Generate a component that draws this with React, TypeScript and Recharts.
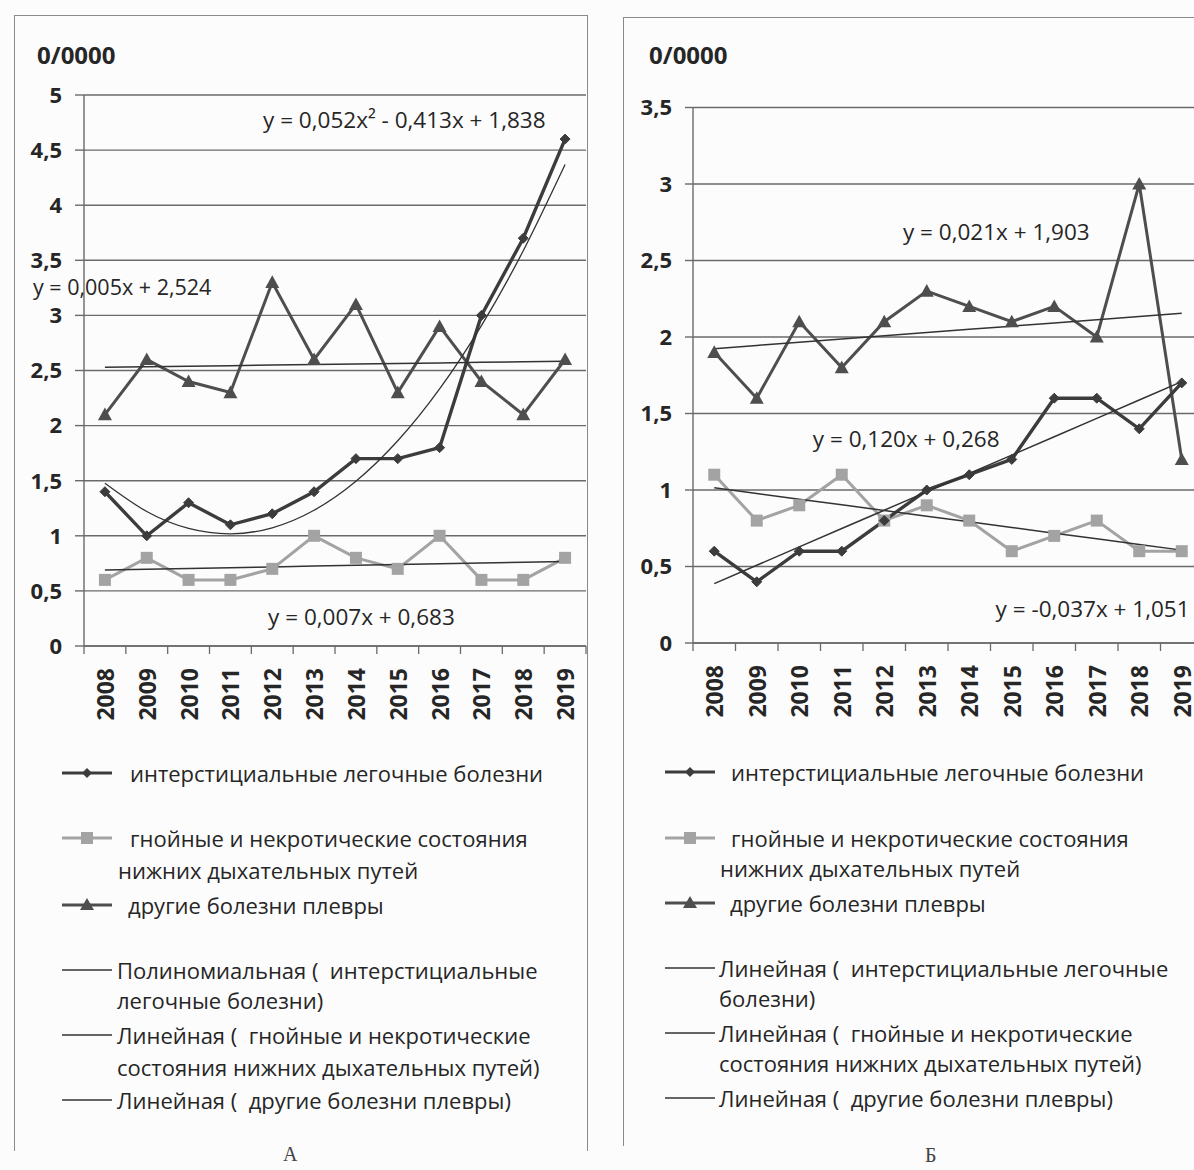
import React from 'react';
import { LineChart, Line, XAxis, YAxis, CartesianGrid, ReferenceDot } from 'recharts';

// ---------- data ----------
const years = ['2008', '2009', '2010', '2011', '2012', '2013', '2014', '2015', '2016', '2017', '2018', '2019'];

// Chart A
const interstitialA = [1.4, 1.0, 1.3, 1.1, 1.2, 1.4, 1.7, 1.7, 1.8, 3.0, 3.7, 4.6];
const purulentA = [0.6, 0.8, 0.6, 0.6, 0.7, 1.0, 0.8, 0.7, 1.0, 0.6, 0.6, 0.8];
const pleuraA = [2.1, 2.6, 2.4, 2.3, 3.3, 2.6, 3.1, 2.3, 2.9, 2.4, 2.1, 2.6];
const polyTrendA = [1.477, 1.22, 1.067, 1.018, 1.073, 1.232, 1.495, 1.862, 2.333, 2.908, 3.587, 4.37];
const purulentTrendA = [0.69, 0.697, 0.704, 0.711, 0.718, 0.725, 0.732, 0.739, 0.746, 0.753, 0.76, 0.767];
const pleuraTrendA = [2.529, 2.534, 2.539, 2.544, 2.549, 2.554, 2.559, 2.564, 2.569, 2.574, 2.579, 2.584];
const yTicksA = [0, 0.5, 1, 1.5, 2, 2.5, 3, 3.5, 4, 4.5, 5];

// Chart B
const interstitialB = [0.6, 0.4, 0.6, 0.6, 0.8, 1.0, 1.1, 1.2, 1.6, 1.6, 1.4, 1.7];
const purulentB = [1.1, 0.8, 0.9, 1.1, 0.8, 0.9, 0.8, 0.6, 0.7, 0.8, 0.6, 0.6];
const pleuraB = [1.9, 1.6, 2.1, 1.8, 2.1, 2.3, 2.2, 2.1, 2.2, 2.0, 3.0, 1.2];
const interstitialTrendB = [0.388, 0.508, 0.628, 0.748, 0.868, 0.988, 1.108, 1.228, 1.348, 1.468, 1.588, 1.708];
const purulentTrendB = [1.014, 0.977, 0.94, 0.903, 0.866, 0.829, 0.792, 0.755, 0.718, 0.681, 0.644, 0.607];
const pleuraTrendB = [1.924, 1.945, 1.966, 1.987, 2.008, 2.029, 2.05, 2.071, 2.092, 2.113, 2.134, 2.155];
const yTicksB = [0, 0.5, 1, 1.5, 2, 2.5, 3, 3.5];

// x ticks: category centres (integers) and category boundaries (halves)
const xTicks: number[] = [];
for (let i = 0; i <= years.length * 2; i++) xTicks.push(i / 2 - 0.5);

const dataA = years.map((y, i) => ({
  x: i, year: y,
  inter: interstitialA[i], pur: purulentA[i], pleu: pleuraA[i],
  interT: polyTrendA[i], purT: purulentTrendA[i], pleuT: pleuraTrendA[i],
}));
const dataB = years.map((y, i) => ({
  x: i, year: y,
  inter: interstitialB[i], pur: purulentB[i], pleu: pleuraB[i],
  interT: interstitialTrendB[i], purT: purulentTrendB[i], pleuT: pleuraTrendB[i],
}));

// ---------- styles ----------
const FONT = "'Open Sans', sans-serif";
const TEXT = '#262626';
const C_INTER = '#3c3c3c';
const C_PUR = '#a3a3a3';
const C_PLEU = '#4e4e4e';
const C_TREND = '#333333';
const C_GRID = '#6a6a6a';

const fmt = (v: number) => String(v).replace('.', ',');

const XTick = (props: any) => {
  const { x, y, payload } = props;
  const v = payload.value as number;
  if (Math.abs(v - Math.round(v)) > 0.01) {
    return <line x1={x} x2={x} y1={y} y2={y + 8} stroke={C_GRID} strokeWidth={1.3} />;
  }
  const ty = y + 22;
  return (
    <text x={x} y={ty} transform={`rotate(-90 ${x} ${ty})`} textAnchor="end" dominantBaseline="central"
      fontFamily={FONT} fontSize={23} fontWeight={700} fill={TEXT}>
      {years[Math.round(v)]}
    </text>
  );
};

const diamondDot = (props: any) => {
  const { cx, cy, index } = props;
  const s = 5;
  return <polygon key={`d${index}`} points={`${cx},${cy - s} ${cx + s},${cy} ${cx},${cy + s} ${cx - s},${cy}`} fill={C_INTER} stroke={C_INTER} strokeWidth={1} />;
};
const squareDot = (props: any) => {
  const { cx, cy, index } = props;
  const s = 6;
  return <rect key={`s${index}`} x={cx - s} y={cy - s} width={2 * s} height={2 * s} fill={C_PUR} />;
};
const triangleDot = (props: any) => {
  const { cx, cy, index } = props;
  const s = 7;
  return <polygon key={`t${index}`} points={`${cx},${cy - s} ${cx + s},${cy + s * 0.8} ${cx - s},${cy + s * 0.8}`} fill={C_PLEU} />;
};

const eqLabel = (value: string, size = 22.5) => ({
  value, position: 'right' as const, offset: 0, fill: TEXT, fontSize: size, fontFamily: FONT,
});

function ChartA() {
  return (
    <LineChart width={600} height={720} data={dataA} margin={{ top: 95, right: 14, bottom: 0, left: 0 }}>
      <CartesianGrid vertical={false} stroke={C_GRID} strokeWidth={1.4} />
      <XAxis type="number" dataKey="x" domain={[-0.5, 11.5]} ticks={xTicks} interval={0} height={74}
        tickSize={0} tickMargin={0} tick={(p: any) => <XTick {...p} />} axisLine={{ stroke: C_GRID, strokeWidth: 1.4 }} />
      <YAxis type="number" domain={[0, 5]} ticks={yTicksA} interval={0} width={84} tickSize={9} tickMargin={13}
        tickFormatter={fmt} axisLine={{ stroke: C_GRID, strokeWidth: 1.4 }} tickLine={{ stroke: C_GRID, strokeWidth: 1.4 }}
        tick={{ fontFamily: FONT, fontSize: 22, fontWeight: 700, fill: TEXT }} />
      <Line dataKey="pur" stroke={C_PUR} strokeWidth={3} dot={squareDot} activeDot={false} isAnimationActive={false} />
      <Line dataKey="pleu" stroke={C_PLEU} strokeWidth={3} dot={triangleDot} activeDot={false} isAnimationActive={false} />
      <Line dataKey="inter" stroke={C_INTER} strokeWidth={3.4} dot={diamondDot} activeDot={false} isAnimationActive={false} />
      <Line type="natural" dataKey="interT" stroke={C_TREND} strokeWidth={1.3} dot={false} activeDot={false} isAnimationActive={false} />
      <Line dataKey="purT" stroke={C_TREND} strokeWidth={1.5} dot={false} activeDot={false} isAnimationActive={false} />
      <Line dataKey="pleuT" stroke={C_TREND} strokeWidth={1.5} dot={false} activeDot={false} isAnimationActive={false} />
      <ReferenceDot x={3.78} y={4.77} r={0} stroke="none" fill="none" ifOverflow="visible" label={eqLabel('y = 0,052x² - 0,413x + 1,838')} />
      <ReferenceDot x={-1.72} y={3.25} r={0} stroke="none" fill="none" ifOverflow="visible" label={eqLabel('y = 0,005x + 2,524', 21.5)} />
      <ReferenceDot x={3.9} y={0.263} r={0} stroke="none" fill="none" ifOverflow="visible" label={eqLabel('y = 0,007x + 0,683')} />
    </LineChart>
  );
}

function ChartB() {
  return (
    <LineChart width={620} height={717} data={dataB} margin={{ top: 107.5, right: 17, bottom: 0, left: 0 }}>
      <CartesianGrid vertical={false} stroke={C_GRID} strokeWidth={1.4} />
      <XAxis type="number" dataKey="x" domain={[-0.5, 11.5]} ticks={xTicks} interval={0} height={74}
        tickSize={0} tickMargin={0} tick={(p: any) => <XTick {...p} />} axisLine={{ stroke: C_GRID, strokeWidth: 1.4 }} />
      <YAxis type="number" domain={[0, 3.5]} ticks={yTicksB} interval={0} width={93} tickSize={8} tickMargin={13}
        tickFormatter={fmt} axisLine={{ stroke: C_GRID, strokeWidth: 1.4 }} tickLine={{ stroke: C_GRID, strokeWidth: 1.4 }}
        tick={{ fontFamily: FONT, fontSize: 22, fontWeight: 700, fill: TEXT }} />
      <Line dataKey="pur" stroke={C_PUR} strokeWidth={3} dot={squareDot} activeDot={false} isAnimationActive={false} />
      <Line dataKey="pleu" stroke={C_PLEU} strokeWidth={3} dot={triangleDot} activeDot={false} isAnimationActive={false} />
      <Line dataKey="inter" stroke={C_INTER} strokeWidth={3.4} dot={diamondDot} activeDot={false} isAnimationActive={false} />
      <Line dataKey="interT" stroke={C_TREND} strokeWidth={1.5} dot={false} activeDot={false} isAnimationActive={false} />
      <Line dataKey="purT" stroke={C_TREND} strokeWidth={1.5} dot={false} activeDot={false} isAnimationActive={false} />
      <Line dataKey="pleuT" stroke={C_TREND} strokeWidth={1.5} dot={false} activeDot={false} isAnimationActive={false} />
      <ReferenceDot x={4.44} y={2.686} r={0} stroke="none" fill="none" ifOverflow="visible" label={eqLabel('y = 0,021x + 1,903')} />
      <ReferenceDot x={2.32} y={1.333} r={0} stroke="none" fill="none" ifOverflow="visible" label={eqLabel('y = 0,120x + 0,268')} />
      <ReferenceDot x={6.62} y={0.222} r={0} stroke="none" fill="none" ifOverflow="visible" label={eqLabel('y = -0,037x + 1,051')} />
    </LineChart>
  );
}

type Icon = 'diamond' | 'square' | 'triangle' | 'line';

function LegendIcon({ type, left, top }: { type: Icon; left: number; top: number }) {
  return (
    <svg width={52} height={20} style={{ position: 'absolute', left, top: top - 10 }}>
      {type === 'line' ? (
        <line x1={0} x2={50} y1={10} y2={10} stroke={C_TREND} strokeWidth={1.5} />
      ) : (
        <line x1={0} x2={50} y1={10} y2={10} stroke={type === 'square' ? C_PUR : type === 'triangle' ? C_PLEU : C_INTER} strokeWidth={3} />
      )}
      {type === 'diamond' && <polygon points="25,5 30,10 25,15 20,10" fill={C_INTER} />}
      {type === 'square' && <rect x={19} y={4} width={12} height={12} fill={C_PUR} />}
      {type === 'triangle' && <polygon points="25,3 32,15 18,15" fill={C_PLEU} />}
    </svg>
  );
}

function Txt({ left, top, children }: { left: number; top: number; children: React.ReactNode }) {
  return (
    <div style={{ position: 'absolute', left, top: top - 15, height: 30, lineHeight: '30px', whiteSpace: 'pre',
      fontFamily: FONT, fontSize: 22, color: TEXT }}>{children}</div>
  );
}

export default function App() {
  return (
    <div style={{ position: 'fixed', left: 0, top: 0, width: 1194, height: 1170, overflow: 'hidden', background: '#fcfcfc' }}>
      {/* frames */}
      <div style={{ position: 'absolute', left: 14, top: 15, width: 572, height: 1135, borderTop: '1.5px solid #8a8a8a', borderLeft: '1.5px solid #8a8a8a', borderRight: '1.5px solid #8a8a8a' }} />
      <div style={{ position: 'absolute', left: 623, top: 17, width: 700, height: 1128, borderTop: '1.5px solid #8a8a8a', borderLeft: '1.5px solid #8a8a8a' }} />

      <div style={{ position: 'absolute', left: 0, top: 0 }}><ChartA /></div>
      <div style={{ position: 'absolute', left: 600, top: 0 }}><ChartB /></div>

      {/* unit labels */}
      <div style={{ position: 'absolute', left: 37, top: 38, fontFamily: FONT, fontSize: 24, fontWeight: 700, color: TEXT }}>0/0000</div>
      <div style={{ position: 'absolute', left: 649, top: 38, fontFamily: FONT, fontSize: 24, fontWeight: 700, color: TEXT }}>0/0000</div>

      {/* legend A */}
      <LegendIcon type="diamond" left={62} top={773} />
      <Txt left={130} top={773}>интерстициальные легочные болезни</Txt>
      <LegendIcon type="square" left={62} top={838} />
      <Txt left={130} top={838}>гнойные и некротические состояния</Txt>
      <Txt left={118} top={870}>нижних дыхательных путей</Txt>
      <LegendIcon type="triangle" left={62} top={905} />
      <Txt left={128} top={905}>другие болезни плевры</Txt>
      <LegendIcon type="line" left={62} top={970} />
      <Txt left={117} top={970}>{'Полиномиальная (  интерстициальные'}</Txt>
      <Txt left={117} top={1000}>легочные болезни)</Txt>
      <LegendIcon type="line" left={62} top={1035} />
      <Txt left={117} top={1035}>{'Линейная (  гнойные и некротические'}</Txt>
      <Txt left={117} top={1067}>состояния нижних дыхательных путей)</Txt>
      <LegendIcon type="line" left={62} top={1100} />
      <Txt left={117} top={1100}>{'Линейная (  другие болезни плевры)'}</Txt>

      {/* legend B */}
      <LegendIcon type="diamond" left={665} top={772} />
      <Txt left={731} top={772}>интерстициальные легочные болезни</Txt>
      <LegendIcon type="square" left={665} top={838} />
      <Txt left={731} top={838}>гнойные и некротические состояния</Txt>
      <Txt left={720} top={868}>нижних дыхательных путей</Txt>
      <LegendIcon type="triangle" left={665} top={903} />
      <Txt left={730} top={903}>другие болезни плевры</Txt>
      <LegendIcon type="line" left={665} top={968} />
      <Txt left={719} top={968}>{'Линейная (  интерстициальные легочные'}</Txt>
      <Txt left={719} top={998}>болезни)</Txt>
      <LegendIcon type="line" left={665} top={1033} />
      <Txt left={719} top={1033}>{'Линейная (  гнойные и некротические'}</Txt>
      <Txt left={719} top={1063}>состояния нижних дыхательных путей)</Txt>
      <LegendIcon type="line" left={665} top={1098} />
      <Txt left={719} top={1098}>{'Линейная (  другие болезни плевры)'}</Txt>

      {/* panel letters */}
      <div style={{ position: 'absolute', left: 283, top: 1143, fontFamily: "'Liberation Serif', serif", fontSize: 20, lineHeight: '22px', color: '#444' }}>А</div>
      <div style={{ position: 'absolute', left: 925, top: 1144, fontFamily: "'Liberation Serif', serif", fontSize: 20, lineHeight: '22px', color: '#444' }}>Б</div>
    </div>
  );
}
